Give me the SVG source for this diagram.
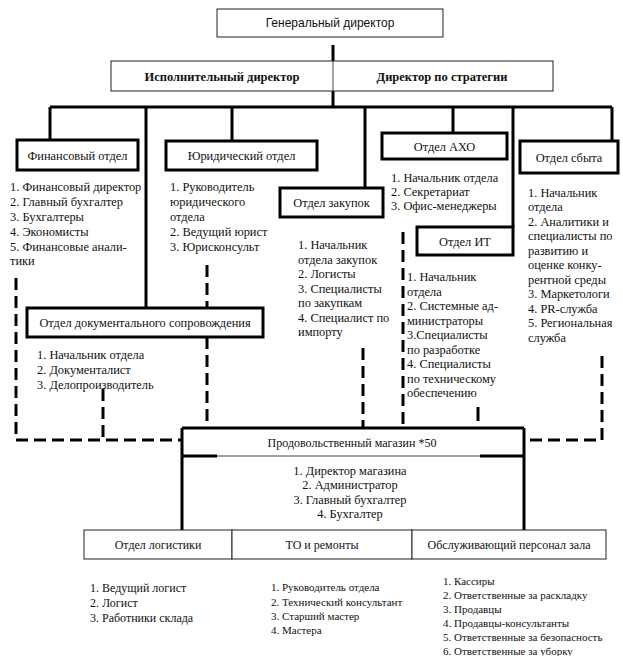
<svg xmlns="http://www.w3.org/2000/svg" width="623" height="656" viewBox="0 0 623 656" font-family="'Liberation Serif','Times New Roman',serif">
<style>
  .bg{fill:#fff}
  .thin{fill:#fff;stroke:#222;stroke-width:1}
  .thick{fill:#fff;stroke:#000;stroke-width:3}
  .ln{stroke:#000;stroke-width:3;fill:none}
  .ds{stroke:#000;stroke-width:3;fill:none;stroke-dasharray:12 6}
  .hl{stroke:#444;stroke-width:1;fill:none}
  text{font-family:"Liberation Serif","Times New Roman",serif;font-size:12.4px;fill:#111}
  .c{text-anchor:middle}
  .sans{font-family:"Liberation Sans",Arial,sans-serif;font-size:12px}
  .b{font-weight:bold;font-size:12.5px}
  .s12{font-size:12px}
  .s11{font-size:11px}
</style>
<rect class="bg" width="623" height="656"/>
<g id="connectors">
  <line class="ln" x1="333" y1="45" x2="333" y2="63"/>
  <line class="ln" x1="333" y1="91" x2="333" y2="107"/>
  <line class="ln" x1="50" y1="107" x2="612" y2="107"/>
  <line class="ln" x1="50" y1="107" x2="50" y2="140"/>
  <line class="ln" x1="146" y1="107" x2="146" y2="308"/>
  <line class="ln" x1="232" y1="107" x2="232" y2="141"/>
  <line class="ln" x1="365" y1="107" x2="365" y2="188"/>
  <line class="ln" x1="453" y1="107" x2="453" y2="133"/>
  <line class="ln" x1="513" y1="107" x2="513" y2="227"/>
  <line class="ln" x1="612" y1="107" x2="612" y2="141"/>
  <path class="ds" d="M16 278 V440 H182"/>
  <line class="ds" x1="103" y1="389" x2="103" y2="440"/>
  <line class="ds" x1="207" y1="265" x2="207" y2="428"/>
  <line class="ds" x1="363" y1="348" x2="363" y2="428"/>
  <line class="ds" x1="403" y1="232" x2="403" y2="428"/>
  <line class="ln" x1="478" y1="407" x2="478" y2="421"/>
  <path class="ds" d="M602 356 V440 H528"/>
</g>
<g id="gen-director">
  <rect class="thin" x="217" y="9" width="226" height="28"/>
  <text class="sans c" x="330" y="27">Генеральный директор</text>
</g>
<g id="exec-strategy">
  <rect class="thin" x="111" y="61" width="442" height="30"/>
  <line class="hl" x1="333" y1="61" x2="333" y2="91"/>
  <text class="b c" x="222" y="80.5">Исполнительный директор</text>
  <text class="b c" x="442" y="80.5">Директор по стратегии</text>
</g>
<g id="fin">
  <rect class="thick" x="17" y="140" width="121" height="30"/>
  <text class="c" x="77.5" y="159.5">Финансовый отдел</text>
  <text x="10" y="191">1. Финансовый директор</text>
  <text x="10" y="206">2. Главный бухгалтер</text>
  <text x="10" y="221">3. Бухгалтеры</text>
  <text x="10" y="236">4. Экономисты</text>
  <text x="10" y="251">5. Финансовые анали-</text>
  <text x="10" y="265">тики</text>
</g>
<g id="legal">
  <rect class="thick" x="166" y="141" width="151" height="29"/>
  <text class="c" x="241.5" y="160">Юридический отдел</text>
  <text x="170" y="191">1. Руководитель</text>
  <text x="170" y="206">юридического</text>
  <text x="170" y="221">отдела</text>
  <text x="170" y="236">2. Ведущий юрист</text>
  <text x="170" y="251">3. Юрисконсульт</text>
</g>
<g id="purchase">
  <rect class="thick" x="280" y="188" width="103" height="29"/>
  <text class="c" x="331.5" y="207">Отдел закупок</text>
  <text x="298" y="249">1. Начальник</text>
  <text x="298" y="263.5">отдела закупок</text>
  <text x="298" y="278">2. Логисты</text>
  <text x="298" y="292.5">3. Специалисты</text>
  <text x="298" y="307">по закупкам</text>
  <text x="298" y="321.5">4. Специалист по</text>
  <text x="298" y="336">импорту</text>
</g>
<g id="aho">
  <rect class="thick" x="382" y="133" width="125" height="26"/>
  <text class="c" x="444.5" y="150.5">Отдел АХО</text>
  <text x="391" y="182">1. Начальник отдела</text>
  <text x="391" y="196">2. Секретариат</text>
  <text x="391" y="210">3. Офис-менеджеры</text>
</g>
<g id="it">
  <rect class="thick" x="417" y="227" width="96" height="28"/>
  <text class="c" x="465" y="245.5">Отдел ИТ</text>
  <text x="407" y="281">1. Начальник</text>
  <text x="407" y="295.5">отдела</text>
  <text x="407" y="310">2. Системные ад-</text>
  <text x="407" y="324.5">министраторы</text>
  <text x="407" y="339">3.Специалисты</text>
  <text x="407" y="353.5">по разработке</text>
  <text x="407" y="368">4. Специалисты</text>
  <text x="407" y="382.5">по техническому</text>
  <text x="407" y="397">обеспечению</text>
</g>
<g id="sales">
  <rect class="thick" x="520" y="141" width="98" height="32"/>
  <text class="c" x="569" y="161.5">Отдел сбыта</text>
  <text x="528" y="196.5">1. Начальник</text>
  <text x="528" y="211">отдела</text>
  <text x="528" y="225.5">2. Аналитики и</text>
  <text x="528" y="240">специалисты по</text>
  <text x="528" y="254.5">развитию и</text>
  <text x="528" y="269">оценке конку-</text>
  <text x="528" y="283.5">рентной среды</text>
  <text x="528" y="298">3. Маркетологи</text>
  <text x="528" y="312.5">4. PR-служба</text>
  <text x="528" y="327">5. Региональная</text>
  <text x="528" y="341.5">служба</text>
</g>
<g id="docs">
  <rect class="thick" x="27" y="308" width="236" height="29"/>
  <text class="c" x="145" y="327">Отдел документального сопровождения</text>
  <text x="37" y="359">1. Начальник отдела</text>
  <text x="37" y="374">2. Документалист</text>
  <text x="37" y="389">3. Делопроизводитель</text>
</g>
<g id="store">
  <rect class="bg" x="182" y="428" width="342" height="102"/>
  <line class="ln" x1="182" y1="428" x2="524" y2="428"/>
  <line class="ln" x1="182" y1="428" x2="182" y2="531"/>
  <line class="ln" x1="524" y1="428" x2="524" y2="531"/>
  <line class="hl" x1="182" y1="456" x2="524" y2="456"/>
  <line class="ln" x1="182" y1="456" x2="217" y2="456"/>
  <line class="ln" x1="480" y1="456" x2="524" y2="456"/>
  <text class="c" x="352" y="446.5" style="font-size:12px">Продовольственный магазин *50</text>
  <text class="c" x="350" y="475">1. Директор магазина</text>
  <text class="c" x="350" y="489">2. Администратор</text>
  <text class="c" x="350" y="503.5">3. Главный бухгалтер</text>
  <text class="c" x="350" y="518">4. Бухгалтер</text>
</g>
<g id="logistics">
  <rect class="thin" x="84" y="530" width="148" height="29"/>
  <text class="c s12" x="158" y="549">Отдел логистики</text>
  <text class="s12" x="90" y="592">1. Ведущий логист</text>
  <text class="s12" x="90" y="607">2. Логист</text>
  <text class="s12" x="90" y="622">3. Работники склада</text>
</g>
<g id="maintenance">
  <rect class="thin" x="232" y="530" width="180" height="29"/>
  <text class="c s12" x="322" y="549">ТО и ремонты</text>
  <text class="s11" x="271" y="591">1. Руководитель отдела</text>
  <text class="s11" x="271" y="605.5">2. Технический консультант</text>
  <text class="s11" x="271" y="620">3. Старший мастер</text>
  <text class="s11" x="271" y="634">4. Мастера</text>
</g>
<g id="hall-staff">
  <rect class="thin" x="412" y="530" width="194" height="29"/>
  <text class="c s12" x="509" y="549">Обслуживающий персонал зала</text>
  <text class="s11" x="443" y="585">1. Кассиры</text>
  <text class="s11" x="443" y="599">2. Ответственные за раскладку</text>
  <text class="s11" x="443" y="613">3. Продавцы</text>
  <text class="s11" x="443" y="627">4. Продавцы-консультанты</text>
  <text class="s11" x="443" y="641">5. Ответственные за безопасность</text>
  <text class="s11" x="443" y="655">6. Ответственные за уборку</text>
</g>
</svg>
